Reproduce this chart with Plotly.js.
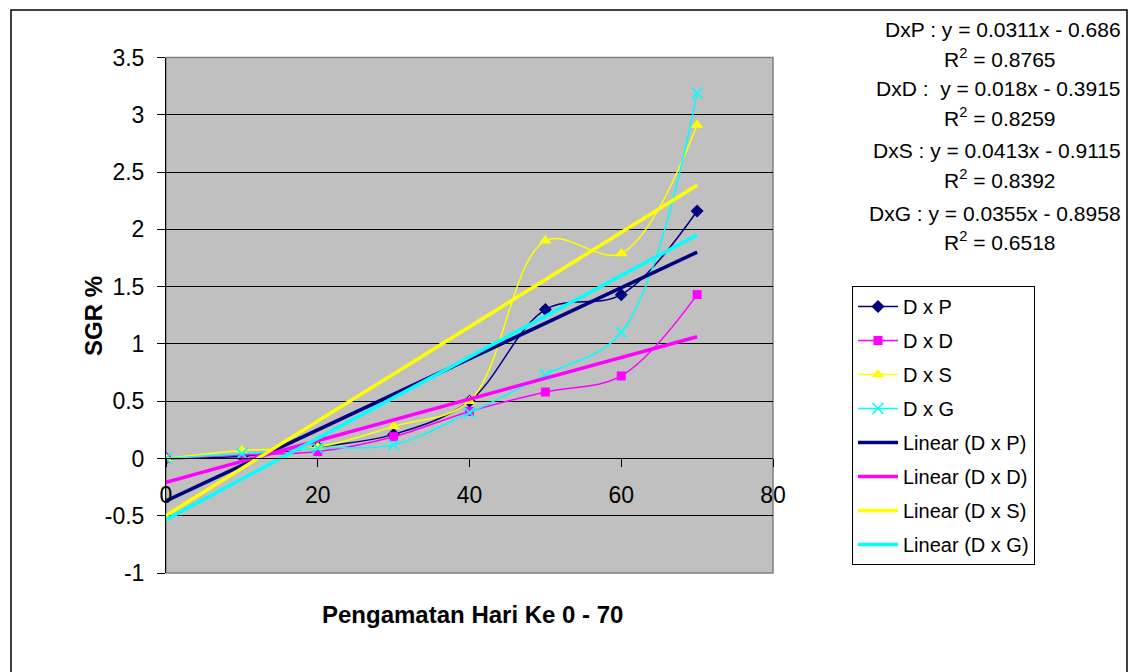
<!DOCTYPE html>
<html>
<head>
<meta charset="utf-8">
<script src="https://cdn.plot.ly/plotly-3.0.1.min.js"></script>
<style>html,body{margin:0;padding:0;background:#fff;}#chart{width:1131px;height:672px;}</style>
</head>
<body>
<div id="chart"></div>
<script>
// Observation day
const days = [0, 10, 20, 30, 40, 50, 60, 70];
// SGR % series
const dxP = [0, 0.02, 0.10, 0.21, 0.50, 1.30, 1.43, 2.16];
const dxD = [0, 0.03, 0.06, 0.19, 0.41, 0.58, 0.72, 1.43];
const dxS = [0, 0.07, 0.10, 0.28, 0.50, 1.90, 1.79, 2.91];
const dxG = [0, 0.04, 0.09, 0.12, 0.40, 0.73, 1.10, 3.19];
const seriesNames = ['D x P', 'D x D', 'D x S', 'D x G'];
const xTicks = [0, 20, 40, 60, 80];
const yTicks = [-1, -0.5, 0, 0.5, 1, 1.5, 2, 2.5, 3, 3.5];
const equations = [
  'DxP : y = 0.0311x - 0.686', 'R<sup>2</sup> = 0.8765',
  'DxD :  y = 0.018x - 0.3915', 'R<sup>2</sup> = 0.8259',
  'DxS : y = 0.0413x - 0.9115', 'R<sup>2</sup> = 0.8392',
  'DxG : y = 0.0355x - 0.8958', 'R<sup>2</sup> = 0.6518'
];

const W = 1131, H = 672;
const colors = ['#000080', '#FF00FF', '#FFFF00', '#00FFFF'];
const symbols = ['diamond', 'square', 'triangle-up', 'x-thin-open'];
const sizes = [10, 9, 11, 11];
const FONT = '"Liberation Sans", Arial, sans-serif';

function linfit(x, y) {
  const n = x.length;
  const mx = x.reduce((a, b) => a + b, 0) / n;
  const my = y.reduce((a, b) => a + b, 0) / n;
  let sxy = 0, sxx = 0;
  for (let i = 0; i < n; i++) { sxy += (x[i] - mx) * (y[i] - my); sxx += (x[i] - mx) ** 2; }
  const m = sxy / sxx;
  return { m: m, b: my - m * mx };
}

const all = [dxP, dxD, dxS, dxG];
const traces = [];
all.forEach((ys, i) => {
  traces.push({
    x: days, y: ys, type: 'scatter', mode: 'lines+markers', name: seriesNames[i],
    legendgroup: 'g' + i,
    line: { color: colors[i], width: 1.5, shape: 'spline', smoothing: 1 },
    marker: { symbol: symbols[i], size: sizes[i], color: colors[i],
      line: { color: colors[i], width: symbols[i] === 'x-thin-open' ? 1.6 : 0 } }
  });
});
all.forEach((ys, i) => {
  const f = linfit(days, ys);
  const x0 = days[0], x1 = days[days.length - 1];
  traces.push({
    x: [x0, x1], y: [f.b + f.m * x0, f.b + f.m * x1], type: 'scatter', mode: 'lines',
    name: 'Linear (' + seriesNames[i] + ')', legendgroup: 'l' + i,
    line: { color: colors[i], width: 3.5 }
  });
});

const px = v => v / W, py = v => 1 - v / H;
const yBot = 573, yTop = 57.5;
const zeroFrac = py(yBot - (yBot - yTop) * (0 - (-1)) / 4.5);

const annotations = [];
const eqY = [30, 58, 89, 117, 150, 179, 213, 241];
equations.forEach((t, i) => {
  const isR = i % 2 === 1;
  annotations.push({
    xref: 'paper', yref: 'paper', x: isR ? px(1000) : px(1123), y: py(eqY[i]),
    xanchor: isR ? 'center' : 'right', yanchor: 'middle', showarrow: false,
    text: t, font: { family: FONT, size: 21, color: '#000' }
  });
});
annotations.push({
  xref: 'paper', yref: 'paper', x: px(472), y: py(614), xanchor: 'center', yanchor: 'middle',
  showarrow: false, text: '<b>Pengamatan Hari Ke 0 - 70</b>', font: { family: FONT, size: 24, color: '#000' }
});
annotations.push({
  xref: 'paper', yref: 'paper', x: px(93), y: py(316), xanchor: 'center', yanchor: 'middle',
  showarrow: false, textangle: -90, text: '<b>SGR %</b>', font: { family: FONT, size: 24, color: '#000' }
});

const layout = {
  width: W, height: H,
  margin: { l: 0, r: 0, t: 0, b: 0 },
  paper_bgcolor: '#ffffff', plot_bgcolor: '#C0C0C0',
  font: { family: FONT, color: '#000' },
  showlegend: true,
  xaxis: {
    domain: [px(166), px(773)], range: [0, 80], tickvals: xTicks, ticktext: xTicks.map(String),
    anchor: 'free', position: zeroFrac,
    showgrid: false, zeroline: false, showline: true, linecolor: '#000', linewidth: 1,
    ticks: 'outside', ticklen: 8, tickcolor: '#000', tickwidth: 1, ticklabelstandoff: 8,
    tickfont: { family: FONT, size: 23, color: '#000' }, fixedrange: true
  },
  yaxis: {
    domain: [py(yBot), py(yTop)], range: [-1, 3.5], tickvals: yTicks, ticktext: yTicks.map(String),
    showgrid: true, gridcolor: '#000', gridwidth: 1, zeroline: false,
    showline: true, linecolor: '#000', linewidth: 1,
    ticks: 'outside', ticklen: 8, tickcolor: '#000', tickwidth: 1, ticklabelstandoff: 8,
    tickfont: { family: FONT, size: 23, color: '#000' }, fixedrange: true
  },
  legend: {
    x: px(852), y: py(286), xanchor: 'left', yanchor: 'top',
    bgcolor: '#ffffff', bordercolor: '#000', borderwidth: 1,
    font: { family: FONT, size: 20, color: '#000' },
    traceorder: 'grouped', tracegroupgap: 5, itemwidth: 40
  },
  annotations: annotations,
  shapes: [
    { type: 'rect', xref: 'paper', yref: 'paper', x0: px(166), x1: px(773), y0: py(yBot), y1: py(yTop),
      line: { color: '#808080', width: 1.5 }, layer: 'below' },
    { type: 'rect', xref: 'paper', yref: 'paper', x0: px(11), x1: px(1127), y0: -0.2, y1: py(10),
      line: { color: '#000', width: 1.5 }, fillcolor: 'rgba(0,0,0,0)' }
  ]
};

Plotly.newPlot('chart', traces, layout, { displayModeBar: false, staticPlot: true });
</script>
</body>
</html>
